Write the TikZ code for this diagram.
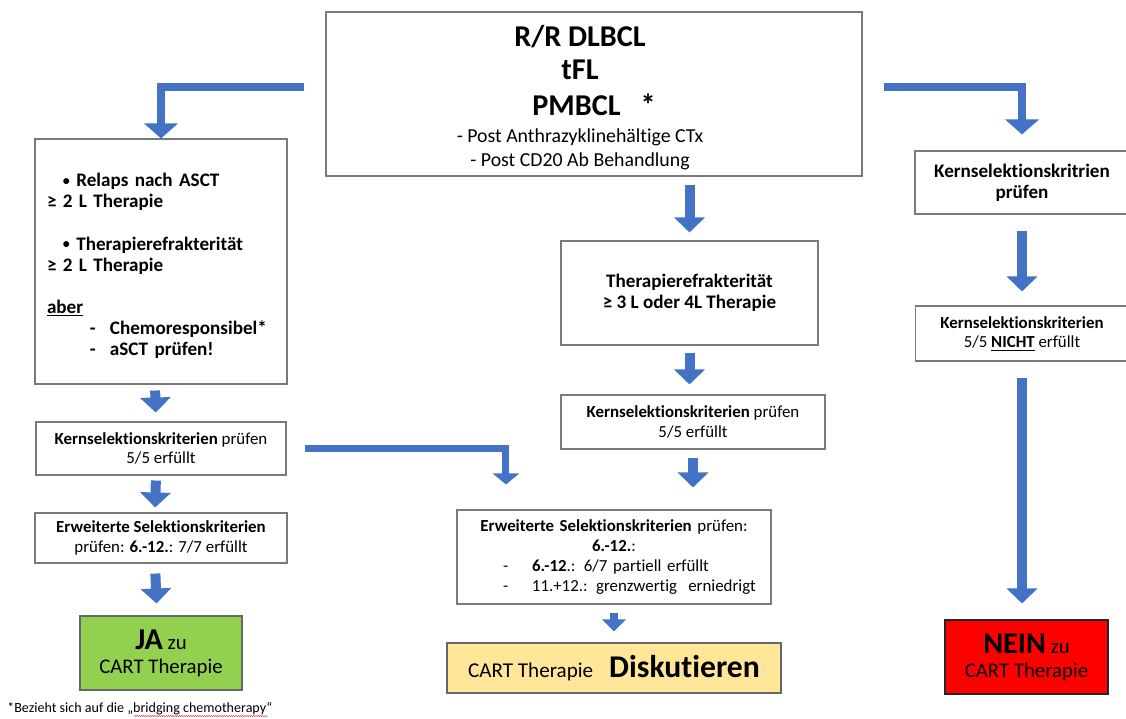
\documentclass[tikz,border=0pt]{standalone}
\usepackage{fontspec}
\setmainfont{Carlito}[Ligatures=NoCommon]
\usepackage{tikz}
\usetikzlibrary{arrows.meta, positioning, calc, decorations.pathmorphing}

\definecolor{arrowblue}{HTML}{4472C4}
\definecolor{boxgray}{HTML}{7A7A7A}
\definecolor{jagreen}{HTML}{92D050}
\definecolor{diskyellow}{HTML}{FFE699}
\definecolor{neinred}{HTML}{FF0000}

\newcommand{\hugetxt}{\fontsize{21.5}{25}\selectfont\bfseries}
\newcommand{\smallbullet}{\raisebox{0.15ex}{\fontsize{10}{10}\selectfont •}}
\newcommand{\dashitem}[1]{\makebox[0.5cm][l]{-}#1}
\newcommand{\padr}{\rule{0.7cm}{0pt}}

\tikzset{
    box/.style = {rectangle, draw=boxgray, line width=0.75pt, text centered, inner sep=0pt, font=\fontsize{12}{14}\selectfont},
    startbox/.style = {box, minimum width=13.4cm, minimum height=4.1cm, align=center, font=\fontsize{14.1}{17.4}\selectfont},
    boldbox/.style = {box, font=\fontsize{13.6}{15}\selectfont\bfseries},
    jabox/.style = {box, draw=black!60, fill=jagreen, font=\fontsize{14.8}{17}\selectfont},
    neinbox/.style = {box, draw=black!85, fill=neinred, font=\fontsize{14.8}{17}\selectfont},
    diskbox/.style = {box, draw=black!60, fill=diskyellow, font=\fontsize{15}{17}\selectfont},
    arrow/.style = {draw=arrowblue, line width=0.25cm, -{Triangle[width=0.75cm, length=0.375cm]}},
    elbowarrow/.style = {draw=arrowblue, line width=0.2cm, -{Triangle[width=0.825cm, length=0.375cm]}},
    midarrow/.style = {draw=arrowblue, line width=0.175cm, -{Triangle[width=0.65cm, length=0.275cm]}},
    smallarrow/.style = {draw=arrowblue, line width=0.2cm, -{Triangle[width=0.575cm, length=0.3cm]}}
}

\begin{document}
\begin{tikzpicture}
\useasboundingbox (0,0) rectangle (28.15,-17.95);

% top
\node (start) [startbox] at (14.85,-2.35) {{\hugetxt\rule{0pt}{20.5pt}R/R DLBCL\padr}\\[6pt]
{\hugetxt tFL\padr}\\[8.5pt]
{\hugetxt PMBCL\hspace*{0.5cm}*}\\[1.5pt]
- Post Anthrazyklinehältige CTx\padr\\
- Post CD20 Ab Behandlung\padr};

% left column
\node (relaps) [boldbox, minimum width=6.3cm, minimum height=6.125cm, text width=5.7cm, align=left] at (4.025,-6.5375) {%
\rule{0pt}{16pt}\hspace*{0.4cm}\smallbullet\ Relaps nach ASCT\\
≥ 2 L Therapie\\[15pt]
\hspace*{0.4cm}\smallbullet\ Therapierefrakterität\\
≥ 2 L Therapie\\[15pt]
\underline{aber}\\
\hspace*{1.075cm}\dashitem{Chemoresponsibel*}\\
\hspace*{1.075cm}\dashitem{aSCT prüfen!}};
\node (lkern) [box, below of=relaps, node distance=4.675cm, minimum width=6.25cm, minimum height=1.325cm, align=center] {\textbf{Kernselektionskriterien} prüfen\\5/5 erfüllt};
\node (lerw) [box, below of=lkern, node distance=2.2375cm, minimum width=6.3cm, minimum height=1.25cm, align=center] {\textbf{Erweiterte Selektionskriterien}\\prüfen: \textbf{6.-12.}: 7/7 erfüllt};
\node (ja) [jabox, below of=lerw, node distance=2.875cm, minimum width=4.05cm, minimum height=1.85cm, align=center] {{\hugetxt JA} zu\\CART Therapie};

% middle column
\node (mther) [boldbox, minimum width=6.425cm, minimum height=2.6cm, align=center] at (17.2375,-7.325) {Therapierefrakterität\\≥ 3 L oder 4L Therapie};
\node (mkern) [box, below of=mther, node distance=3.225cm, xshift=0.0875cm, minimum width=6.6cm, minimum height=1.35cm, align=center] {\textbf{Kernselektionskriterien} prüfen\\5/5 erfüllt};
\node (merw) [box, minimum width=7.85cm, minimum height=2.35cm, text width=7.55cm] at (15.35,-13.925) {%
\centering\textbf{Erweiterte Selektionskriterien} prüfen:\\
\textbf{6.-12.}:\par
\raggedright\hspace*{1.0cm}\makebox[0.725cm][l]{-}\textbf{6.-12}.: 6/7 partiell erfüllt\\
\hspace*{1.0cm}\makebox[0.725cm][l]{-}11.+12.: grenzwertig\ \ erniedrigt\par};
\node (disk) [diskbox, below of=merw, node distance=2.775cm, minimum width=8.35cm, minimum height=1.25cm] {CART Therapie\hspace{0.4cm}{\fontsize{22.5}{25}\selectfont\bfseries Diskutieren}};

% right column
\node (rkern) [boldbox, minimum width=5.35cm, minimum height=1.575cm, align=center] at (25.55,-4.5625) {Kernselektionskritrien\\prüfen};
\node (rnicht) [box, below of=rkern, node distance=3.775cm, minimum width=5.325cm, minimum height=1.375cm, align=center] {\textbf{Kernselektionskriterien}\\5/5 \textbf{\underline{NICHT}} erfüllt};
\node (nein) [neinbox, minimum width=4.075cm, minimum height=1.85cm, align=center] at (25.6625,-16.425) {{\hugetxt NEIN} zu\\CART Therapie};

% footnote
\node (fn) [anchor=base west, inner sep=0pt, font=\fontsize{10}{11}\selectfont] at (0.175,-17.8) {*Bezieht sich auf die „bridging chemotherapy“};
\draw [red, line width=0.3pt, decorate, decoration={snake, amplitude=0.35pt, segment length=1.6pt}] (3.35,-17.9) -- (6.7,-17.9);

% arrows
\coordinate (lstart) at ($(start.west)+(-0.525,0.175)$);
\coordinate (rstart) at ($(start.east)+(0.525,0.175)$);
\coordinate (mstart) at ($(lkern.east)+(0.45,0)$);
\coordinate (mbend) at ($(merw.north west)+(1.2375,0)$);

\draw [elbowarrow] (lstart) -| (relaps.north);
\draw [elbowarrow, shorten >=0.4cm] (rstart) -| (rkern.north);
\draw [midarrow, shorten >=0.625cm] (mstart) -| (mbend);

\draw [arrow, shorten <=0.2cm, shorten >=0.2cm] (start.south -| mther.north) -- (mther.north);
\draw [arrow, shorten <=0.175cm, shorten >=0.25cm] (mther.south) -- (mther.south |- mkern.north);
\draw [arrow, shorten <=0.2cm, shorten >=0.55cm] (mkern.south) -- (mkern.south |- merw.north);
\draw [smallarrow, shorten <=0.2cm, shorten >=0.275cm] (merw.south) -- (disk.north);

\draw [arrow, shorten <=0.15cm, shorten >=0.225cm] ([xshift=-0.15cm]relaps.south) -- ([xshift=-0.125cm]lkern.north);
\draw [arrow, shorten <=0.125cm, shorten >=0.125cm] ([xshift=-0.125cm]lkern.south) -- ([xshift=-0.15cm]lerw.north);
\draw [arrow, shorten <=0.25cm, shorten >=0.3cm] ([xshift=-0.15cm]lerw.south) -- ([xshift=-0.1cm]ja.north);

\draw [arrow, shorten <=0.4cm, shorten >=0.35cm] (rkern.south) -- (rnicht.north);
\draw [arrow, shorten <=0.4cm, shorten >=0.4cm] (rnicht.south) -- (rnicht.south |- nein.north);
\end{tikzpicture}
\end{document}
